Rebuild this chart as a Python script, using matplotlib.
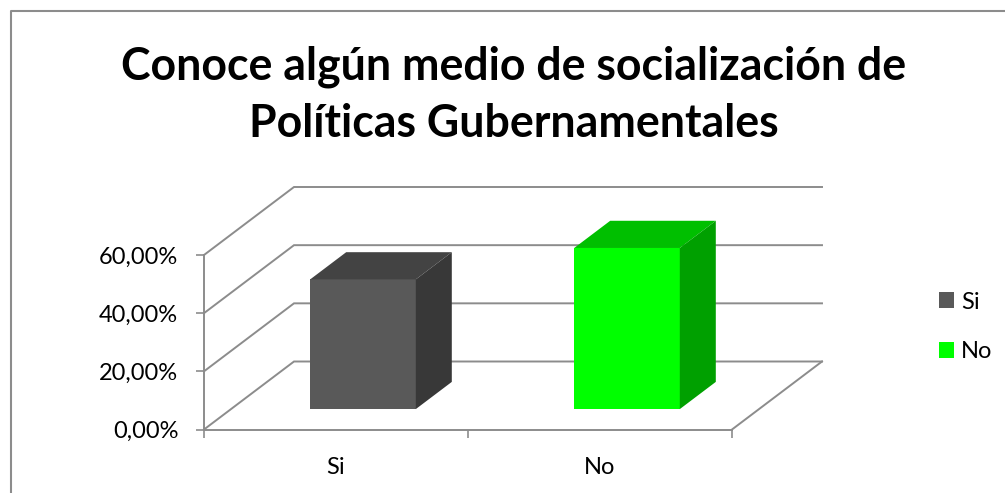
#importing all required modules
import matplotlib.pyplot as plt
from matplotlib.lines import Line2D
from matplotlib.ticker import FixedLocator, FuncFormatter

plt.rcParams['font.family'] = ['Lato', 'DejaVu Sans']

#chart data
title = "Conoce algún medio de socialización de\nPolíticas Gubernamentales"
categories = ['Si', 'No']
values = [44.6, 55.4]
front_colors = ['#595959', '#00ff00']
top_colors = ['#434343', '#00bf00']
side_colors = ['#383838', '#00a000']
y_ticks = [0, 20, 40, 60]

#size of the figure in pixels and where the front plane of the chart sits
W, H = 1005, 493
LEFT, RIGHT, TOP, BOTTOM = 204, 732, 255, 429.5
GRAY = '#8c8c8c'

#the oblique depth of the floor, in data units of the axes
DEPTH_X = 90 / 264
DEPTH_Y = 68 / ((BOTTOM - TOP) / 60)
#bars fill 40% of the category width and 40% of the depth
BAR_W = 0.4
D0, D1 = 0.3, 0.7


def back(x, y, d=1.0):
    """This function moves a point of the front plane back by depth d"""
    return x + DEPTH_X * d, y + DEPTH_Y * d


fig = plt.figure(figsize=(W / 100, H / 100), dpi=100)
ax = fig.add_axes([LEFT / W, 1 - BOTTOM / H, (RIGHT - LEFT) / W, (BOTTOM - TOP) / H])
ax.set_xlim(0, len(categories))
ax.set_ylim(0, y_ticks[-1])
ax.patch.set_visible(False)

#walls and floor of the chart
for v in y_ticks:
    bx, by = back(0, v)
    ex, ey = back(len(categories), v)
    ax.plot([0, bx, ex], [v, by, ey], color=GRAY, lw=1.4, clip_on=False, zorder=1,
            solid_joinstyle='miter')
fx, fy = back(len(categories), 0)
ax.plot([len(categories), fx], [0, fy], color=GRAY, lw=1.4, clip_on=False, zorder=1)

#the three visible faces of each bar
handles = []
for i, cat in enumerate(categories):
    val = values[i]
    x0, y0 = back(i + 0.5 - BAR_W / 2, 0, D0)
    x1 = x0 + BAR_W
    bars = ax.bar(x0, val, width=BAR_W, bottom=y0, align='edge', color=front_colors[i],
                  label=cat, clip_on=False, zorder=3)
    handles.append(bars)
    dx = DEPTH_X * (D1 - D0)
    dy = DEPTH_Y * (D1 - D0)
    ax.fill([x0, x1, x1 + dx, x0 + dx], [y0 + val, y0 + val, y0 + val + dy, y0 + val + dy],
            color=top_colors[i], lw=0, clip_on=False, zorder=3)
    ax.fill([x1, x1 + dx, x1 + dx, x1], [y0, y0 + dy, y0 + val + dy, y0 + val],
            color=side_colors[i], lw=0, clip_on=False, zorder=3)

#axes, ticks and labels
for side in ['top', 'right']:
    ax.spines[side].set_visible(False)
for side in ['left', 'bottom']:
    ax.spines[side].set_color(GRAY)
    ax.spines[side].set_linewidth(1.4)
ax.set_yticks(y_ticks)
ax.yaxis.set_major_formatter(FuncFormatter(lambda v, p: '{:.2f}%'.format(v).replace('.', ',')))
ax.set_xticks(range(len(categories) + 1))
ax.set_xticklabels([])
ax.xaxis.set_minor_locator(FixedLocator([i + 0.5 for i in range(len(categories))]))
ax.set_xticklabels(categories, minor=True)
ax.tick_params(axis='both', which='major', length=5.5, width=1.2, color=GRAY,
               labelsize=17, labelcolor='black', pad=13)
ax.tick_params(axis='x', which='minor', length=0, labelsize=17, pad=19.5)

ax.legend(handles=handles, labels=categories, loc='center left', frameon=False,
          bbox_to_anchor=(939 / W, 1 - 327 / H), bbox_transform=fig.transFigure,
          fontsize=17, handlelength=0.64, handleheight=0.64, handletextpad=0.3,
          labelspacing=1.22, borderpad=0, borderaxespad=0)

fig.text(514 / W, 1 - 95 / H, title, ha='center', va='center', fontsize=32.1,
         fontweight='bold', color='black', linespacing=1.45)

#outer border of the chart area, only the top and left sides are in the picture
fig.add_artist(Line2D([10.5 / W, 10.5 / W, 1], [0, 1 - 10.5 / H, 1 - 10.5 / H],
                      color=GRAY, lw=1.5))

plt.savefig('out.png', dpi=100)
